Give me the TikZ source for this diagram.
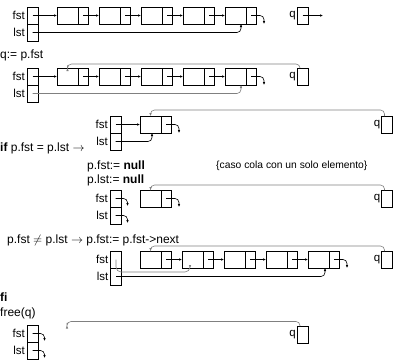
\documentclass[tikz,border=0pt]{standalone}
\usepackage{fontspec}
\setmainfont{Liberation Sans}
\usetikzlibrary{arrows.meta}
\newcommand\lelem[3]{\node[dat] (#1) at (#2,#3) {}; \node[nxt] (#1n) at (#1.east) {};}
\newcommand\pbox[3]{\node[pc] (#1l) at (#2,#3) {}; \node[pc] (#1f) at (#1l.north west) {};
  \node[lbl,anchor=east] (#1ft) at ([xshift=-2pt]#1f.west) {fst};
  \node[lbl,anchor=east] (#1lt) at ([xshift=-2pt]#1l.west) {lst};}
\newcommand\qbox[3]{\node[pc] (#1) at (#2,#3) {}; \node[lbl,anchor=east] (#1t) at ([xshift=-1pt]#1.west) {q};}
\begin{document}
\begin{tikzpicture}[x=1pt,y=1pt,
  box/.style={draw,line width=0.6pt,minimum height=17pt,inner sep=0pt,outer sep=0pt},
  dat/.style={box,minimum width=21pt,anchor=south west},
  nxt/.style={box,minimum width=10pt,anchor=west},
  pc/.style={box,minimum width=11pt,anchor=south west},
  lbl/.style={font=\fontsize{11.5}{13}\selectfont,inner sep=0pt},
  txt/.style={font=\fontsize{12}{14}\selectfont,inner sep=0pt,anchor=west},
  captxt/.style={font=\fontsize{10.3}{12}\selectfont,inner sep=0pt,anchor=west},
  ptr/.style={line width=0.6pt,-{Latex[length=3pt,width=2.6pt]}},
  gptr/.style={ptr,draw=black!50},
  curl/.style={ptr,rounded corners=4pt},
]
\useasboundingbox (0,0) rectangle (393,360);
% ---------- row 1
\pbox{p1}{27}{319}
\lelem{a1}{57}{336}\lelem{a2}{99}{336}\lelem{a3}{141}{336}\lelem{a4}{183}{336}\lelem{a5}{225}{336}
\qbox{q1}{297}{336}
\coordinate (q1e) at (323,344.5);
\coordinate (a5b) at ([xshift=16pt]a5.south west);
\draw[ptr] (p1f.center) -- (a1.west);
\draw[ptr] (a1n.center) -- (a2.west);
\draw[ptr] (a2n.center) -- (a3.west);
\draw[ptr] (a3n.center) -- (a4.west);
\draw[ptr] (a4n.center) -- (a5.west);
\draw[curl] (a5n.center) -- ++(13,0) -- ++(0,-8.5);
\draw[ptr,rounded corners=4pt] (p1l.center) -| (a5b);
\draw[ptr] (q1.center) -- (q1e);
% ---------- row 2
\node[txt] (t2) at (0,305) {q:= p.fst};
\pbox{p2}{27}{258}
\lelem{b1}{57}{275}\lelem{b2}{99}{275}\lelem{b3}{141}{275}\lelem{b4}{183}{275}\lelem{b5}{225}{275}
\qbox{q2}{297}{275}
\coordinate (b5b) at ([xshift=16pt]b5.south west);
\draw[ptr] (p2f.center) -- (b1.west);
\draw[ptr] (b1n.center) -- (b2.west);
\draw[ptr] (b2n.center) -- (b3.west);
\draw[ptr] (b3n.center) -- (b4.west);
\draw[ptr] (b4n.center) -- (b5.west);
\draw[curl] (b5n.center) -- ++(13,0) -- ++(0,-8.5);
\draw[gptr,rounded corners=4pt] (p2l.center) -| (b5b);
\draw[gptr,rounded corners=4pt] ([xshift=3pt]q2.north west) |- ([yshift=4pt]b1.north) -- (b1.north);
% ---------- row 3
\node[txt] (t3) at (0,212) {\textbf{if} p.fst = p.lst $\rightarrow$};
\node[txt] (t3a) at (87,194) {p.fst:= \textbf{null}};
\node[txt] (t3b) at (87,180) {p.lst:= \textbf{null}};
\node[captxt] (t3c) at (216,194) {\{caso cola con un solo elemento\}};
\pbox{p3}{110}{210}
\lelem{c1}{140}{227}
\qbox{q3}{381.5}{227}
\coordinate (c1b) at ([xshift=12pt]c1.south west);
\draw[ptr] (p3f.center) -- (c1.west);
\draw[ptr,rounded corners=4pt] (p3l.center) -| (c1b);
\draw[curl] (c1n.center) -- ++(13,0) -- ++(0,-8.5);
\draw[gptr,rounded corners=4pt] ([xshift=3pt]q3.north west) |- ([yshift=6pt]c1.north) -- (c1.north);
% ---------- row 4
\pbox{p4}{110}{136}
\lelem{d1}{140}{153}
\qbox{q4}{381.5}{153}
\draw[curl] (p4f.center) -- ++(12,0) -- ++(0,-7.5);
\draw[curl] (p4l.center) -- ++(12,0) -- ++(0,-7.5);
\draw[curl] (d1n.center) -- ++(13,0) -- ++(0,-8.5);
\draw[gptr,rounded corners=4pt] ([xshift=3pt]q4.north west) |- ([yshift=5pt]d1.north) -- (d1.north);
\node[txt] (t4) at (7,120) {p.fst $\neq$ p.lst $\rightarrow$ p.fst:= p.fst->next};
% ---------- row 5
\pbox{p5}{110.5}{75}
\lelem{e1}{140}{92}\lelem{e2}{182}{92}\lelem{e3}{224}{92}\lelem{e4}{266}{92}\lelem{e5}{308}{92}
\qbox{q5}{381.5}{92}
\coordinate (e2b) at ([xshift=8pt]e2.south west);
\coordinate (e5b) at ([xshift=17pt]e5.south west);
\draw[ptr] (e1n.center) -- (e2.west);
\draw[ptr] (e2n.center) -- (e3.west);
\draw[ptr] (e3n.center) -- (e4.west);
\draw[ptr] (e4n.center) -- (e5.west);
\draw[curl] (e5n.center) -- ++(13,0) -- ++(0,-8.5);
\draw[gptr,rounded corners=5pt] (p5f.center) |- ([yshift=-4pt]e2b) -- (e2b);
\draw[ptr,rounded corners=4pt] (p5l.center) -| (e5b);
\draw[gptr,rounded corners=4pt] ([xshift=3pt]q5.north west) |- ([yshift=5pt]e1.north) -- (e1.north);
% ---------- row 6
\node[txt] (t6a) at (0,63) {\textbf{fi}};
\node[txt] (t6b) at (0,47) {free(q)};
\pbox{p6}{27}{1}
\qbox{q6}{297}{17}
\coordinate (f6e) at (67,34.5);
\draw[curl] (p6f.center) -- ++(12,0) -- ++(0,-7.5);
\draw[curl] (p6l.center) -- ++(12,0) -- ++(0,-7.5);
\draw[gptr,rounded corners=4pt] ([xshift=3pt]q6.north west) |- ([yshift=4pt]f6e) -- (f6e);
\end{tikzpicture}
\end{document}
